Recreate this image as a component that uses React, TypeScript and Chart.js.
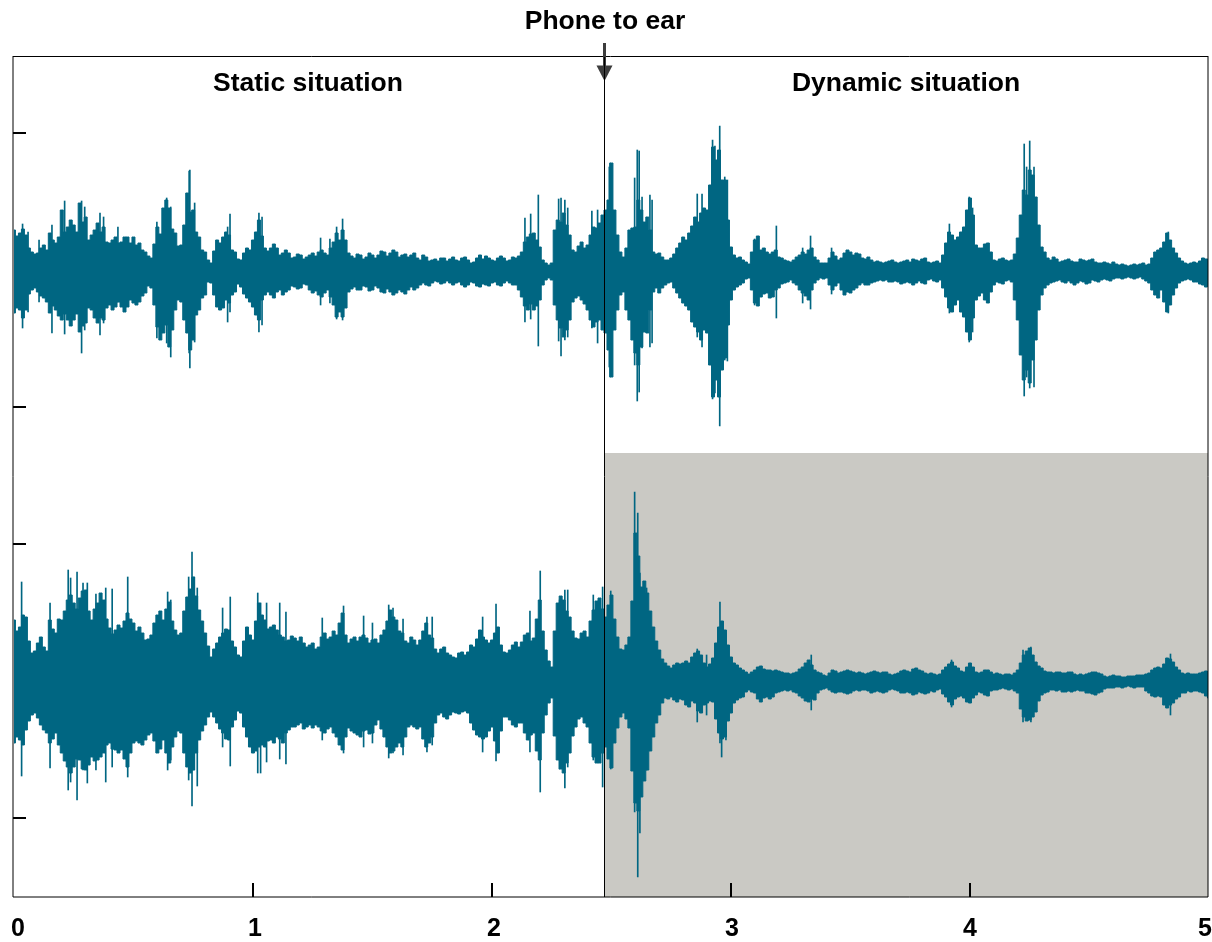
import React, { useEffect, useRef } from "react";
import { Chart, registerables } from "chart.js";

Chart.register(...registerables);

// All amplitudes. Main samples every 0.025 s,
// with the in-between readings kept in the *Mid lists.
const SAMPLE_STEP = 0.025;

const topUpper = [
  40,37,35,18,17,25,37,27,60,43,45,67,53,35,47,43,27,33,28,33,33,27,18,12,43,62,62,37,25,77,60,33,18,7,30,33,35,18,10,22,30,50,22,22,22,17,17,13,15,13,
  17,18,17,22,37,40,17,12,15,13,15,15,18,17,18,15,13,17,10,13,10,9,12,11,10,12,10,8,15,14,10,12,12,10,12,18,33,37,23,7,7,50,57,35,18,28,25,43,47,60,
  107,35,13,40,43,60,53,18,17,10,12,22,33,37,53,57,60,123,120,90,23,12,10,6,30,20,18,18,13,10,8,13,18,20,13,7,7,18,10,17,18,17,12,13,8,8,8,10,7,9,
  8,10,11,8,8,7,27,35,33,43,72,25,22,27,10,11,10,10,32,80,100,73,23,12,13,8,10,9,8,10,10,8,7,7,8,5,5,5,5,7,6,18,22,37,22,12,7,7,7,12,11,
];
const topUpperMid = [
  34,41,22,16,22,20,30,33,38,50,38,48,30,40,38,28,30,27,33,27,25,20,14,26,36,70,41,24,45,58,38,20,10,19,27,38,20,11,17,20,38,34,19,26,15,20,12,16,11,15,
  14,20,15,28,30,30,14,16,11,17,12,19,14,20,13,16,15,12,15,9,11,12,9,13,9,13,7,12,11,12,9,14,9,13,14,28,36,30,10,5,40,48,45,20,24,22,35,42,55,70,
  60,18,22,42,70,48,40,16,13,10,16,27,30,44,48,62,85,110,90,50,15,13,8,18,34,22,16,20,12,9,10,15,16,22,10,7,12,14,12,20,15,16,11,10,9,7,9,8,8,10,
  11,9,12,7,9,15,38,30,38,60,55,22,26,18,9,12,9,16,55,75,95,45,18,10,11,9,11,8,11,9,11,7,8,6,6,6,4,6,6,5,12,20,28,30,17,9,6,8,9,11,
];
const topLower = [
  43,40,40,20,22,28,43,40,50,50,50,62,53,40,53,50,35,37,37,37,33,32,23,18,57,63,77,40,32,63,70,40,25,13,37,38,33,22,17,28,37,50,25,25,22,25,20,17,18,15,
  23,25,23,27,47,47,22,17,20,17,20,18,23,22,23,22,20,20,15,15,13,12,13,13,13,15,15,13,17,15,13,15,13,13,15,27,40,40,30,10,10,50,67,50,28,30,40,57,50,63,
  107,40,22,50,83,77,63,22,23,15,12,23,33,40,57,70,63,127,127,88,30,17,13,8,33,27,23,27,18,13,10,15,23,30,13,8,8,20,13,25,23,18,13,15,12,10,10,12,12,13,
  13,13,13,10,11,10,27,42,30,47,70,30,23,33,15,13,11,12,50,110,113,70,25,15,12,10,13,13,13,12,13,11,10,10,9,8,8,8,8,9,13,25,20,42,25,13,10,10,12,15,15,
];
const topLowerMid = [
  38,48,24,18,26,32,36,46,44,56,44,56,38,48,48,38,40,32,42,30,35,26,16,35,70,55,60,30,50,80,45,28,12,25,40,30,25,14,24,32,45,30,22,28,20,22,16,19,14,20,
  21,27,20,35,42,38,19,20,16,21,16,22,19,25,20,24,17,18,13,16,11,14,11,15,12,17,12,16,14,16,12,16,11,15,20,36,34,36,15,8,35,58,60,32,26,34,50,52,60,80,
  60,25,40,70,95,62,40,18,18,13,18,28,36,52,62,60,95,110,100,55,20,15,9,20,36,24,28,20,14,12,13,20,26,20,10,9,15,16,20,22,20,15,15,13,11,11,12,11,14,12,
  15,11,14,9,12,18,38,35,42,62,48,26,30,22,12,14,10,30,85,100,90,40,18,13,11,12,11,15,11,14,10,12,9,11,8,9,7,9,7,11,20,28,32,35,18,11,9,12,14,17,
];
const bottomUpper = [
  61,54,64,28,38,34,61,48,61,81,78,83,91,61,78,81,53,51,53,68,58,54,41,46,66,61,79,51,48,84,104,71,48,24,38,48,51,34,24,54,41,78,61,54,51,44,41,43,44,34,
  38,34,48,44,46,68,38,44,44,43,41,38,51,71,61,48,38,41,41,58,43,28,34,26,23,29,29,34,51,41,41,54,29,31,39,39,48,43,81,31,14,78,81,64,43,48,44,71,83,64,
  86,44,31,44,148,94,88,54,31,18,13,18,18,18,28,26,14,23,54,51,24,16,11,7,11,15,11,10,10,8,7,9,14,21,11,8,5,11,8,10,10,8,8,8,10,8,9,6,8,11,
  9,13,10,7,7,7,14,19,13,9,18,9,9,11,7,7,7,6,11,26,33,19,13,9,8,9,8,9,6,6,8,9,7,4,6,5,4,5,6,6,8,13,13,23,19,11,7,7,7,9,9,
];
const bottomUpperMid = [
  50,66,40,30,44,30,52,62,70,86,72,90,70,72,88,62,47,56,60,62,50,48,42,58,70,72,60,46,70,92,85,60,35,32,44,52,40,26,40,46,60,66,52,56,46,40,45,40,38,36,
  32,44,42,50,58,46,42,40,46,38,42,46,60,64,50,40,44,36,50,46,32,32,28,24,28,26,36,42,44,38,48,36,28,36,34,46,40,62,50,20,50,85,70,50,42,50,60,80,72,76,
  62,32,36,80,125,100,70,40,22,15,16,17,20,24,30,18,17,38,60,36,18,13,9,9,14,12,11,11,9,8,8,12,18,16,9,6,8,10,9,11,9,9,7,9,9,9,7,7,10,10,
  12,11,8,8,6,11,17,15,10,14,14,8,11,9,8,6,7,8,18,30,26,15,10,9,9,8,9,7,7,7,9,8,5,5,5,4,5,5,6,7,11,14,17,22,14,8,8,7,8,10,
];
const bottomLower = [
  62,59,49,34,37,49,62,52,72,86,86,79,89,76,79,72,62,69,69,86,62,62,59,52,72,59,82,56,52,86,89,59,44,31,42,52,59,39,32,56,72,66,66,59,56,62,49,46,42,46,
  47,46,52,46,56,69,47,52,56,49,52,39,56,72,66,66,46,46,46,66,56,34,36,34,32,31,32,49,56,56,46,72,36,39,46,42,59,52,79,34,17,79,92,72,46,36,46,76,82,66,
  87,47,32,47,122,116,89,56,34,17,16,21,19,26,22,32,22,21,52,56,32,19,16,9,12,21,16,16,11,9,9,12,17,21,19,9,7,11,11,12,12,9,9,10,11,11,11,8,10,12,
  12,13,12,12,11,8,16,24,16,17,22,14,12,15,9,8,8,8,12,36,39,31,14,11,9,9,11,11,9,10,12,14,11,7,7,6,6,6,6,6,12,16,16,27,22,16,12,11,10,12,17,
];
const bottomLowerMid = [
  56,64,40,32,44,52,58,64,80,92,78,88,84,80,76,64,68,72,78,72,60,64,54,60,68,72,66,50,72,92,72,50,36,36,48,58,46,30,46,66,70,64,60,62,58,52,46,44,48,44,
  44,50,48,52,64,56,50,54,50,53,44,48,66,70,62,56,44,48,58,62,42,32,38,31,33,30,42,54,58,50,60,50,36,44,42,52,54,70,52,22,55,88,82,55,38,42,62,82,72,78,
  62,36,38,90,130,100,70,42,22,18,19,18,24,20,30,24,20,38,58,40,22,17,11,11,18,17,18,12,10,10,11,15,20,18,12,8,9,12,11,13,10,10,9,12,10,12,9,9,12,11,
  14,11,13,10,9,13,21,18,15,21,17,11,14,10,9,7,9,10,28,40,36,20,12,9,10,11,10,10,10,12,13,12,8,7,6,7,5,7,6,10,15,15,24,24,18,12,10,10,11,15,
];

// Thin isolated peaks on top of the solid body of each waveform.
const topSpikeTimes = [.036,.059,.105,.159,.212,.283,.296,.360,.375,.435,.598,.639,.656,.733,.736,.756,.894,.904,1.025,1.038,1.283,1.322,1.350,1.375,2.138,2.162,2.194,2.279,2.289,2.305,2.317,2.418,2.442,2.491,2.494,2.597,2.608,2.616,2.628,2.661,2.670,2.859,2.879,2.923,2.933,2.953,2.974,2.985,3.099,3.190,3.300,3.333,3.421,3.914,3.997,4.011,4.227,4.237,4.250,4.268,4.830];
const topSpikeUp = [46,38,30,45,69,69,63,57,53,43,48,72,63,99,100,67,43,56,57,53,32,31,43,51,52,56,75,71,72,70,62,59,60,103,107,92,120,119,73,75,70,76,76,130,124,144,93,90,31,44,22,34,22,46,73,62,126,103,129,103,38];
const topSpikeDown = [58,42,32,63,64,83,60,65,53,32,68,73,87,83,98,72,52,42,62,55,35,33,49,50,52,49,76,71,86,70,67,58,73,97,107,95,131,122,78,77,73,67,77,129,123,156,90,91,35,48,33,39,24,43,72,62,126,107,118,117,43];

const bottomSpikeTimes = [.032,.151,.227,.237,.264,.289,.307,.343,.384,.411,.476,.643,.656,.731,.745,.753,.767,.873,.905,1.020,1.032,1.057,1.112,1.138,1.290,1.379,1.463,1.500,1.568,1.586,1.628,1.728,1.750,1.961,2.017,2.159,2.202,2.283,2.305,2.317,2.424,2.463,2.497,2.597,2.610,2.619,2.647,2.859,2.898,2.954,2.961,2.979,3.336,3.923,4.222,4.255,4.839];
const bottomSpikeUp = [99,78,111,103,109,98,98,87,93,92,104,89,81,104,129,104,93,73,84,88,78,78,78,69,63,75,65,58,76,73,62,64,64,64,77,70,110,81,91,91,86,94,90,189,168,108,93,32,26,79,54,48,26,21,31,34,27];
const bottomSpikeDown = [95,87,109,101,119,89,102,89,101,86,96,89,79,99,125,89,105,66,85,92,92,81,78,83,59,72,66,62,77,72,74,71,64,71,80,71,111,88,107,86,79,106,88,131,196,152,89,41,34,62,76,59,29,26,41,41,34];

const xTickValues = [0, 1, 2, 3, 4, 5];
const xTickNudges = [4, 2, 2, 1, 0, -4];
const yTickValues = [-137, 137, 274, 548];

const TOP_CENTER = 411;
const BOTTOM_CENTER = 0;
const EVENT_TIME = 2.469;
const SHADE_TOP = 228;

const TEAL = "#006682";
const SHADE = "#cac9c4";
const FONT = '"Liberation Sans", Arial, sans-serif';

const envelope = (values: number[], mids: number[], center: number, sign: number) =>
  values
    .flatMap((v, i) => (i < mids.length ? [v, mids[i]] : [v]))
    .map((v, i) => ({ x: (i * SAMPLE_STEP) / 2, y: center + sign * v }));

const spikes = (times: number[], up: number[], down: number[], center: number) =>
  times.map((t, i) => ({ x: t, y: [center - down[i], center + up[i]] }));

const areaStyle = {
  type: "line" as const,
  borderColor: TEAL,
  backgroundColor: TEAL,
  borderWidth: 1,
  pointRadius: 0,
  tension: 0,
  stepped: "middle" as const,
};
const spikeStyle = {
  type: "bar" as const,
  backgroundColor: TEAL,
  barThickness: 1,
  grouped: false,
  borderWidth: 0,
};

const decorations = {
  id: "decorations",
  beforeDraw(chart: any) {
    const sx = chart.scales.x;
    sx.getLabelItems().forEach((item: any, i: number) => {
      if (!item.nudged) {
        item.options.translation[0] += xTickNudges[i];
        item.nudged = true;
      }
    });
  },
  beforeDatasetsDraw(chart: any) {
    const { ctx, chartArea: a, scales } = chart;
    const left = Math.round(scales.x.getPixelForValue(EVENT_TIME));
    const top = scales.y.getPixelForValue(SHADE_TOP);
    ctx.save();
    ctx.fillStyle = SHADE;
    ctx.fillRect(left, top, a.right - left, a.bottom - top);
    ctx.restore();
  },
  afterDatasetsDraw(chart: any) {
    const { ctx, chartArea: a, scales } = chart;
    const ex = Math.round(scales.x.getPixelForValue(EVENT_TIME));
    ctx.save();
    // frame
    ctx.strokeStyle = "#000";
    ctx.lineWidth = 1;
    ctx.beginPath();
    ctx.moveTo(a.left, a.top + 0.5);
    ctx.lineTo(a.right, a.top + 0.5);
    ctx.moveTo(a.right, a.top);
    ctx.lineTo(a.right, a.bottom);
    ctx.moveTo(a.right, a.bottom);
    ctx.lineTo(a.left, a.bottom);
    ctx.moveTo(a.left, a.bottom);
    ctx.lineTo(a.left, a.top);
    ctx.stroke();
    // inward tick marks
    ctx.lineWidth = 2;
    ctx.beginPath();
    scales.y.ticks.forEach((t: any) => {
      const p = scales.y.getPixelForValue(t.value);
      ctx.moveTo(a.left, p);
      ctx.lineTo(a.left + 13, p);
    });
    scales.x.ticks.forEach((t: any) => {
      if (t.value > 0 && t.value < 5) {
        const p = Math.round(scales.x.getPixelForValue(t.value));
        ctx.moveTo(p, a.bottom);
        ctx.lineTo(p, a.bottom - 14);
      }
    });
    ctx.stroke();
    // event line and arrow
    ctx.strokeStyle = "#000";
    ctx.lineWidth = 1;
    ctx.beginPath();
    ctx.moveTo(ex + 0.5, a.top);
    ctx.lineTo(ex + 0.5, a.bottom);
    ctx.stroke();
    ctx.fillStyle = "#3c3c3c";
    ctx.fillRect(ex - 1, 43, 3, 24);
    ctx.beginPath();
    ctx.moveTo(ex - 7.5, 65.5);
    ctx.lineTo(ex + 8.5, 65.5);
    ctx.lineTo(ex + 0.5, 81);
    ctx.closePath();
    ctx.fill();
    ctx.fillStyle = "#000";
    ctx.fillRect(ex, 57, 1, 24);
    // captions
    ctx.fillStyle = "#000";
    ctx.textAlign = "center";
    ctx.textBaseline = "middle";
    ctx.font = `bold 26.5px ${FONT}`;
    ctx.fillText("Phone to ear", 605, 22);
    ctx.fillText("Static situation", 308, 84);
    ctx.fillText("Dynamic situation", 906, 84);
    ctx.restore();
  },
};

export default function App() {
  const ref = useRef<HTMLCanvasElement>(null);
  useEffect(() => {
    const chart = new Chart(ref.current as HTMLCanvasElement, {
      type: "line",
      data: {
        datasets: [
          { ...areaStyle, data: envelope(topUpper, topUpperMid, TOP_CENTER, 1), fill: "+1" },
          { ...areaStyle, data: envelope(topLower, topLowerMid, TOP_CENTER, -1), fill: false },
          { ...areaStyle, data: envelope(bottomUpper, bottomUpperMid, BOTTOM_CENTER, 1), fill: "+1" },
          { ...areaStyle, data: envelope(bottomLower, bottomLowerMid, BOTTOM_CENTER, -1), fill: false },
          { ...spikeStyle, data: spikes(topSpikeTimes, topSpikeUp, topSpikeDown, TOP_CENTER) },
          { ...spikeStyle, data: spikes(bottomSpikeTimes, bottomSpikeUp, bottomSpikeDown, BOTTOM_CENTER) },
        ] as any,
      },
      options: {
        animation: false,
        responsive: false,
        layout: { padding: { left: 13, right: 4, top: 56, bottom: 0 } },
        plugins: { legend: { display: false }, tooltip: { enabled: false } },
        scales: {
          x: {
            type: "linear",
            min: -0.004,
            max: 4.996,
            offset: false,
            grid: { display: false },
            border: { display: false },
            afterBuildTicks: (s: any) => {
              s.ticks = xTickValues.map((value) => ({ value }));
            },
            afterFit: (s: any) => {
              s.paddingLeft = 0;
              s.paddingRight = 0;
              s.height = 45;
            },
            ticks: {
              autoSkip: false,
              maxRotation: 0,
              padding: 9,
              color: "#000",
              font: { family: FONT, size: 25, weight: "bold" },
            },
          },
          y: {
            type: "linear",
            min: -216,
            max: 625,
            grid: { display: false },
            border: { display: false },
            afterBuildTicks: (s: any) => {
              s.ticks = yTickValues.map((value) => ({ value }));
            },
            afterFit: (s: any) => {
              s.width = 0;
            },
            ticks: { display: false },
          },
        },
      } as any,
      plugins: [decorations],
    });
    return () => chart.destroy();
  }, []);
  return (
    <div style={{ position: "absolute", left: 0, top: 0, width: 1212, height: 942, overflow: "hidden", background: "#fff" }}>
      <canvas ref={ref} width={1212} height={942} style={{ display: "block" }} />
    </div>
  );
}
